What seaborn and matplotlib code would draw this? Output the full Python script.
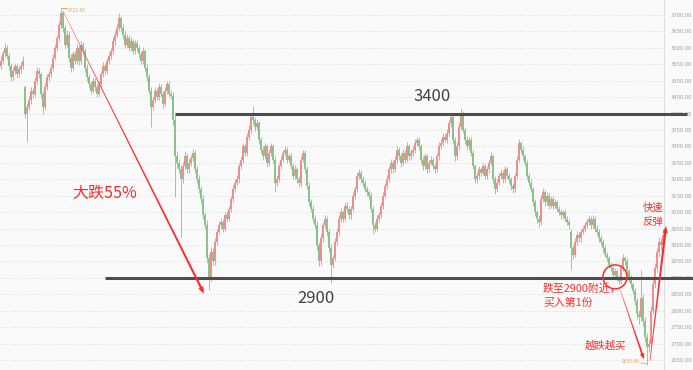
import numpy as np
import matplotlib
matplotlib.use("Agg")
import matplotlib.pyplot as plt
import matplotlib.transforms as mtransforms
from matplotlib.patches import Polygon, Ellipse
import seaborn as sns

# daily candles (about one candle per 2 px)
opens = [3545, 3560, 3585, 3600, 3575, 3545, 3510, 3530, 3545, 3520,
         3535, 3545, 3480, 3400, 3420, 3440, 3470, 3460, 3500, 3530,
         3520, 3460, 3420, 3480, 3510, 3520, 3540, 3570, 3600, 3630,
         3670, 3705, 3660, 3610, 3640, 3570, 3540, 3580, 3560, 3600,
         3560, 3610, 3590, 3540, 3510, 3490, 3470, 3500, 3480, 3460,
         3490, 3520, 3545, 3530, 3560, 3575, 3590, 3620, 3640, 3660,
         3690, 3660, 3640, 3610, 3630, 3600, 3620, 3590, 3615, 3600,
         3580, 3560, 3590, 3540, 3510, 3470, 3420, 3440, 3470, 3450,
         3480, 3460, 3430, 3470, 3490, 3460, 3455, 3380, 3270, 3250,
         3230, 3200, 3240, 3270, 3230, 3250, 3265, 3280, 3230, 3200,
         3170, 3140, 3090, 3060, 2960, 2900, 2980, 2950, 3010, 3040,
         3060, 3070, 3050, 3090, 3080, 3110, 3140, 3170, 3190, 3200,
         3240, 3260, 3300, 3280, 3330, 3350, 3390, 3380, 3360, 3370,
         3320, 3290, 3270, 3300, 3250, 3280, 3300, 3260, 3190, 3200,
         3240, 3260, 3280, 3290, 3260, 3270, 3240, 3210, 3230, 3200,
         3190, 3260, 3280, 3230, 3180, 3130, 3110, 3080, 3060, 3000,
         2950, 3020, 3060, 3080, 3040, 2990, 2940, 2960, 3010, 3040,
         3080, 3100, 3080, 3120, 3110, 3090, 3110, 3150, 3170, 3210,
         3220, 3200, 3190, 3170, 3160, 3150, 3110, 3060, 3050, 3080,
         3090, 3120, 3150, 3180, 3200, 3230, 3250, 3230, 3260, 3290,
         3270, 3250, 3280, 3260, 3300, 3270, 3280, 3290, 3310, 3320,
         3300, 3260, 3240, 3270, 3230, 3250, 3260, 3240, 3230, 3270,
         3300, 3310, 3330, 3320, 3340, 3370, 3390, 3320, 3270, 3300,
         3360, 3400, 3350, 3320, 3300, 3320, 3280, 3240, 3200, 3210,
         3230, 3220, 3240, 3210, 3230, 3250, 3270, 3200, 3170, 3190,
         3210, 3220, 3200, 3230, 3210, 3200, 3180, 3170, 3210, 3260,
         3310, 3290, 3270, 3250, 3210, 3190, 3170, 3130, 3100, 3080,
         3070, 3140, 3160, 3130, 3150, 3120, 3140, 3120, 3130, 3110,
         3100, 3090, 3100, 3080, 3070, 3040, 2990, 2970, 3010, 3030,
         3020, 3040, 3050, 3060, 3070, 3080, 3060, 3080, 3050, 3040,
         3020, 3010, 2990, 2970, 2960, 2940, 2930, 2910, 2920, 2900,
         2890, 2930, 2960, 2950, 2920, 2900, 2880, 2860, 2830, 2790,
         2780, 2840, 2770, 2720, 2690, 2700, 2800, 2880, 2930, 2980,
         3010, 3000]

highs = [3575, 3595, 3614, 3608, 3585, 3553, 3542, 3555, 3550, 3545,
         3557, 3575, 3488, 3432, 3455, 3480, 3478, 3510, 3542, 3540,
         3528, 3470, 3492, 3520, 3530, 3552, 3580, 3612, 3640, 3682,
         3724, 3713, 3670, 3655, 3650, 3580, 3592, 3590, 3612, 3608,
         3622, 3618, 3600, 3552, 3520, 3500, 3512, 3508, 3490, 3500,
         3530, 3557, 3553, 3570, 3587, 3600, 3632, 3650, 3672, 3706,
         3698, 3672, 3650, 3642, 3640, 3632, 3628, 3625, 3623, 3610,
         3590, 3602, 3598, 3550, 3520, 3480, 3452, 3480, 3478, 3492,
         3490, 3468, 3482, 3500, 3498, 3472, 3465, 3395, 3285, 3262,
         3245, 3252, 3285, 3280, 3262, 3275, 3292, 3288, 3240, 3212,
         3180, 3152, 3100, 3075, 2972, 2995, 2990, 3022, 3050, 3072,
         3082, 3078, 3100, 3102, 3120, 3150, 3182, 3200, 3212, 3250,
         3272, 3310, 3308, 3342, 3365, 3402, 3424, 3390, 3385, 3378,
         3330, 3302, 3310, 3308, 3292, 3310, 3308, 3270, 3212, 3250,
         3272, 3290, 3302, 3298, 3280, 3280, 3250, 3242, 3238, 3210,
         3272, 3290, 3288, 3240, 3192, 3140, 3122, 3090, 3072, 3010,
         3032, 3070, 3092, 3088, 3050, 3002, 2970, 3022, 3050, 3092,
         3112, 3108, 3130, 3132, 3120, 3120, 3162, 3180, 3222, 3230,
         3228, 3210, 3198, 3180, 3168, 3160, 3118, 3070, 3092, 3100,
         3130, 3162, 3190, 3212, 3240, 3262, 3258, 3272, 3300, 3298,
         3280, 3292, 3288, 3312, 3308, 3292, 3300, 3322, 3330, 3328,
         3308, 3270, 3280, 3278, 3260, 3270, 3268, 3250, 3280, 3312,
         3322, 3340, 3338, 3352, 3382, 3395, 3398, 3330, 3312, 3375,
         3418, 3408, 3360, 3332, 3330, 3328, 3290, 3248, 3222, 3240,
         3238, 3250, 3248, 3240, 3258, 3282, 3278, 3210, 3202, 3220,
         3230, 3228, 3240, 3238, 3220, 3208, 3190, 3220, 3272, 3322,
         3318, 3300, 3278, 3260, 3218, 3200, 3178, 3140, 3108, 3090,
         3152, 3175, 3168, 3160, 3158, 3150, 3148, 3140, 3138, 3120,
         3110, 3108, 3110, 3088, 3080, 3048, 3000, 3020, 3042, 3040,
         3050, 3058, 3070, 3078, 3090, 3088, 3090, 3088, 3060, 3048,
         3030, 3018, 3000, 2978, 2970, 2948, 2940, 2930, 2928, 2910,
         2940, 2972, 2968, 2960, 2928, 2910, 2888, 2870, 2838, 2802,
         2925, 2850, 2780, 2732, 2715, 2815, 2892, 2945, 2992, 3025,
         3022, 3050]

lows = [3535, 3552, 3573, 3565, 3533, 3500, 3502, 3520, 3508, 3512,
        3525, 3537, 3388, 3313, 3410, 3430, 3448, 3452, 3490, 3508,
        3448, 3398, 3410, 3472, 3500, 3512, 3530, 3562, 3590, 3622,
        3660, 3648, 3600, 3602, 3558, 3528, 3532, 3550, 3552, 3548,
        3552, 3580, 3528, 3500, 3478, 3460, 3462, 3470, 3450, 3455,
        3482, 3510, 3522, 3520, 3552, 3565, 3582, 3610, 3632, 3650,
        3650, 3628, 3600, 3602, 3590, 3592, 3580, 3582, 3590, 3568,
        3550, 3552, 3530, 3498, 3460, 3360, 3410, 3432, 3440, 3442,
        3450, 3418, 3422, 3460, 3450, 3445, 3365, 3146, 3235, 3218,
        3025, 3190, 3232, 3218, 3220, 3240, 3257, 3218, 3190, 3158,
        3128, 3080, 3048, 2945, 2863, 2890, 2938, 2940, 3000, 3032,
        3050, 3040, 3042, 3070, 3072, 3100, 3132, 3160, 3182, 3190,
        3232, 3250, 3270, 3272, 3320, 3340, 3368, 3348, 3350, 3308,
        3280, 3260, 3262, 3238, 3240, 3272, 3250, 3160, 3180, 3192,
        3230, 3252, 3270, 3250, 3252, 3230, 3200, 3202, 3190, 3178,
        3180, 3252, 3220, 3170, 3118, 3100, 3070, 3048, 2985, 2935,
        2940, 3010, 3052, 3028, 2978, 2885, 2930, 2952, 3000, 3030,
        3070, 3070, 3072, 3100, 3078, 3080, 3102, 3140, 3162, 3200,
        3188, 3180, 3162, 3150, 3140, 3100, 3035, 3040, 3042, 3070,
        3082, 3110, 3142, 3170, 3192, 3220, 3220, 3222, 3250, 3260,
        3238, 3242, 3250, 3252, 3260, 3260, 3272, 3280, 3302, 3290,
        3250, 3228, 3232, 3220, 3222, 3242, 3230, 3220, 3222, 3260,
        3292, 3300, 3312, 3310, 3332, 3360, 3308, 3255, 3260, 3290,
        3350, 3340, 3308, 3290, 3292, 3270, 3230, 3190, 3190, 3202,
        3210, 3212, 3200, 3202, 3220, 3242, 3190, 3155, 3160, 3182,
        3200, 3190, 3192, 3200, 3190, 3168, 3158, 3162, 3200, 3252,
        3280, 3260, 3240, 3200, 3180, 3160, 3120, 3088, 3068, 3055,
        3060, 3130, 3120, 3122, 3110, 3112, 3110, 3112, 3100, 3090,
        3080, 3082, 3070, 3060, 3050, 2925, 2958, 2962, 3000, 3010,
        3010, 3032, 3040, 3052, 3060, 3050, 3052, 3040, 3030, 3010,
        3000, 2980, 2962, 2950, 2930, 2920, 2898, 2902, 2890, 2880,
        2880, 2922, 2940, 2910, 2888, 2868, 2850, 2818, 2775, 2760,
        2770, 2755, 2705, 2635, 2675, 2690, 2790, 2870, 2918, 2965,
        2985, 2990]

closes = [3560, 3585, 3600, 3575, 3545, 3510, 3530, 3545, 3520, 3535,
          3545, 3560, 3400, 3420, 3440, 3470, 3460, 3500, 3530, 3520,
          3460, 3420, 3480, 3510, 3520, 3540, 3570, 3600, 3630, 3670,
          3705, 3660, 3610, 3640, 3570, 3540, 3580, 3560, 3600, 3560,
          3610, 3590, 3540, 3510, 3490, 3470, 3500, 3480, 3460, 3490,
          3520, 3545, 3530, 3560, 3575, 3590, 3620, 3640, 3660, 3690,
          3660, 3640, 3610, 3630, 3600, 3620, 3590, 3615, 3600, 3580,
          3560, 3590, 3540, 3510, 3470, 3420, 3440, 3470, 3450, 3480,
          3460, 3430, 3470, 3490, 3460, 3455, 3380, 3270, 3250, 3230,
          3200, 3240, 3270, 3230, 3250, 3265, 3280, 3230, 3200, 3170,
          3140, 3090, 3060, 2960, 2900, 2980, 2950, 3010, 3040, 3060,
          3070, 3050, 3090, 3080, 3110, 3140, 3170, 3190, 3200, 3240,
          3260, 3300, 3280, 3330, 3350, 3390, 3380, 3360, 3370, 3320,
          3290, 3270, 3300, 3250, 3280, 3300, 3260, 3190, 3200, 3240,
          3260, 3280, 3290, 3260, 3270, 3240, 3210, 3230, 3200, 3190,
          3260, 3280, 3230, 3180, 3130, 3110, 3080, 3060, 3000, 2950,
          3020, 3060, 3080, 3040, 2990, 2940, 2960, 3010, 3040, 3080,
          3100, 3080, 3120, 3110, 3090, 3110, 3150, 3170, 3210, 3220,
          3200, 3190, 3170, 3160, 3150, 3110, 3060, 3050, 3080, 3090,
          3120, 3150, 3180, 3200, 3230, 3250, 3230, 3260, 3290, 3270,
          3250, 3280, 3260, 3300, 3270, 3280, 3290, 3310, 3320, 3300,
          3260, 3240, 3270, 3230, 3250, 3260, 3240, 3230, 3270, 3300,
          3310, 3330, 3320, 3340, 3370, 3390, 3320, 3270, 3300, 3360,
          3400, 3350, 3320, 3300, 3320, 3280, 3240, 3200, 3210, 3230,
          3220, 3240, 3210, 3230, 3250, 3270, 3200, 3170, 3190, 3210,
          3220, 3200, 3230, 3210, 3200, 3180, 3170, 3210, 3260, 3310,
          3290, 3270, 3250, 3210, 3190, 3170, 3130, 3100, 3080, 3070,
          3140, 3160, 3130, 3150, 3120, 3140, 3120, 3130, 3110, 3100,
          3090, 3100, 3080, 3070, 3060, 2990, 2970, 3010, 3030, 3020,
          3040, 3050, 3060, 3070, 3080, 3060, 3080, 3050, 3040, 3020,
          3010, 2990, 2970, 2960, 2940, 2930, 2910, 2920, 2900, 2890,
          2930, 2960, 2950, 2920, 2900, 2880, 2860, 2830, 2790, 2780,
          2840, 2770, 2720, 2690, 2700, 2800, 2880, 2930, 2980, 3010,
          3000, 3030]

y_ticks = list(range(2650, 3701, 50))
support = 2900
resistance = 3400
peak_label = "3723.85"
low_label = "2635.09"

RED = "#ff2b2b"
UP = "#ef8e8e"
DOWN = "#88c488"

sns.set_theme(style="white")
plt.rcParams["font.family"] = ["Noto Sans CJK SC", "DejaVu Sans"]

fig = plt.figure(figsize=(6.93, 3.70), dpi=100, facecolor="#fafafa")
ax = fig.add_axes([0, 0, 664 / 693, 1])
ax.set_facecolor("#fafafa")

o = np.array(opens)
h = np.array(highs)
l = np.array(lows)
c = np.array(closes)
x = np.arange(len(c))
col = np.where(c >= o, UP, DOWN)

ax.vlines(x, l, h, colors=col, lw=0.6, zorder=2)
ax.bar(x, np.maximum(np.abs(c - o), 4), bottom=np.minimum(o, c), width=0.75,
       color=col, linewidth=0, zorder=3)

ax.set_xlim(-0.5, 331.5)
ax.set_ylim(2619.6, 3745.7)
ax.set_xticks([])
ax.set_yticks(y_ticks)
ax.set_yticklabels([f"{v:.2f}" for v in y_ticks])
ax.yaxis.tick_right()
ax.tick_params(axis="y", length=0, pad=5, labelsize=4.3, labelcolor="#a0a0a0")
ax.grid(axis="y", color="#dcdcdc", linestyle=(0, (1.5, 2)), lw=0.6, zorder=0)
for s in ["left", "top", "bottom"]:
    ax.spines[s].set_visible(False)
ax.spines["right"].set_color("#dedede")
ax.spines["right"].set_linewidth(0.8)

# support / resistance
ax.plot([87, 343], [resistance, resistance], color="#4d4d4d", lw=2.2,
        solid_capstyle="butt", clip_on=False, zorder=5)
ax.plot([52, 346], [support, support], color="#4d4d4d", lw=2.2,
        solid_capstyle="butt", clip_on=False, zorder=5)
ax.text(215.5, 3453, str(resistance), fontsize=12, color="#404040", ha="center", va="center")
ax.text(157.5, 2836, str(support), fontsize=12, color="#404040", ha="center", va="center")

# high / low markers
ax.plot([30.5, 32.8], [3722, 3722], color="#e9a25f", lw=0.8)
ax.text(33.5, 3714, peak_label, fontsize=3.6, color="#e9a25f", va="center")
ax.plot([320, 323], [2641, 2638], color="#e9a25f", lw=0.6)
ax.text(319.5, 2644, low_label, fontsize=3.6, color="#e9a25f", va="center", ha="right")


def taper_arrow(start, end, w0, w1, head_len=7, head_w=5.5):
    p0 = ax.transData.transform(start)
    p1 = ax.transData.transform(end)
    d = p1 - p0
    u = d / np.hypot(*d)
    n = np.array([-u[1], u[0]])
    b = p1 - u * head_len
    pts = [p0 + n * w0 / 2, b + n * w1 / 2, b + n * head_w / 2, p1,
           b - n * head_w / 2, b - n * w1 / 2, p0 - n * w0 / 2]
    ax.add_patch(Polygon(pts, closed=True, facecolor=RED, edgecolor="none",
                         transform=mtransforms.IdentityTransform(), clip_on=False, zorder=6))


taper_arrow((31, 3712), (101.5, 2852), 0.3, 2.2)
taper_arrow((309.5, 2865), (321.5, 2652), 0.3, 1.8, head_len=6, head_w=4.5)
taper_arrow((324.5, 2648), (332.5, 3058), 0.6, 2.4, head_len=7, head_w=5)

ax.add_patch(Ellipse((307, 2903), 12, 73, fill=False, edgecolor=RED, lw=1.1, zorder=6))

ax.text(52, 3158, "大跌55%", fontsize=11.5, color=RED, ha="center", va="center")
ax.text(271, 2869, "跌至2900附近，", fontsize=7.8, color=RED, ha="left", va="center")
ax.text(271, 2826, "买入第1份", fontsize=7.8, color=RED, ha="left", va="center")
ax.text(302, 2693, "越跌越买", fontsize=7.5, color=RED, ha="center", va="center")
ax.text(326, 3113, "快速", fontsize=7.5, color=RED, ha="center", va="center")
ax.text(326, 3070, "反弹", fontsize=7.5, color=RED, ha="center", va="center")

fig.savefig("out.png", dpi=100, facecolor=fig.get_facecolor())
